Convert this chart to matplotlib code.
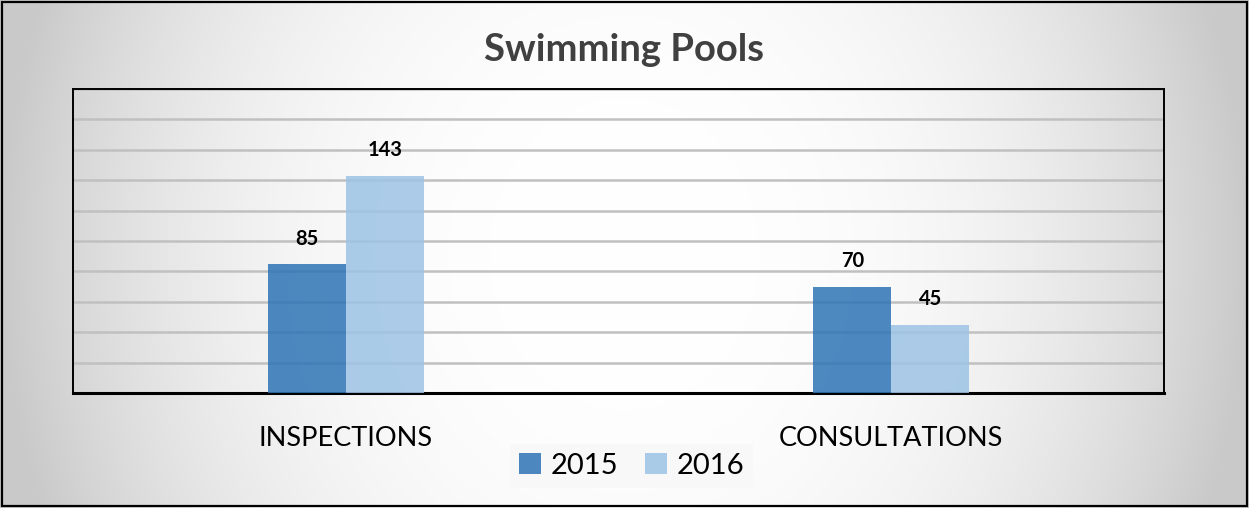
import numpy as np
import matplotlib.pyplot as plt
from matplotlib.patches import Rectangle

plt.rcParams['font.family'] = ['Lato', 'DejaVu Sans']

categories = ['INSPECTIONS', 'CONSULTATIONS']
years = ['2015', '2016']
values_2015 = [85, 70]
values_2016 = [143, 45]

W, H = 1249, 508
fig = plt.figure(figsize=(W / 100, H / 100), dpi=100)

# radial-ish grey gradient background
bg = fig.add_axes([0, 0, 1, 1], zorder=-10)
xx, yy = np.meshgrid(np.linspace(-1, 1, 400), np.linspace(-1, 1, 200))
r = np.clip(xx ** 2 + (0.35 * yy) ** 2, 0, 1)
shade = 1 - 0.21 * r ** 1.3
bg.imshow(np.dstack([shade, shade, shade]), aspect='auto', extent=[0, 1, 0, 1])
bg.add_patch(Rectangle((0.0015, 0.003), 0.997, 0.994, fill=False, lw=1.6,
                       edgecolor='black', transform=bg.transAxes))
bg.set_xlim(0, 1)
bg.set_ylim(0, 1)
bg.axis('off')

ax = fig.add_axes([73 / W, 1 - 393 / H, (1164 - 73) / W, (393 - 89) / H])
ax.patch.set_alpha(0)

x = np.arange(len(categories))
w = 0.143
b1 = ax.bar(x - w / 2, values_2015, w, color='#2e74b5', alpha=0.85, label=years[0], zorder=3)
b2 = ax.bar(x + w / 2, values_2016, w, color='#9dc3e6', alpha=0.85, label=years[1], zorder=3)

for bars, vals in [(b1, values_2015), (b2, values_2016)]:
    for bar, v in zip(bars, vals):
        ax.text(bar.get_x() + bar.get_width() / 2, v + 10, str(v), ha='center', va='bottom',
                fontsize=14.5, fontweight='bold', color='black', zorder=4)

ax.set_xlim(-0.5, 1.5)
ax.set_ylim(0, 200)
ax.set_yticks(np.arange(0, 201, 20))
ax.yaxis.grid(True, color='#c0c0c0', lw=1.8, zorder=0)
ax.tick_params(axis='y', left=False, labelleft=False)
ax.tick_params(axis='x', bottom=False, pad=20)
ax.set_xticks(x)
ax.set_xticklabels(categories, fontsize=19.5, color='black')
for s in ax.spines.values():
    s.set_color('black')
    s.set_linewidth(1.4)
ax.spines['bottom'].set_linewidth(2.2)

fig.text(0.5, 1 - 50 / H, 'Swimming Pools', ha='center', va='center',
         fontsize=27.5, fontweight='bold', color='#404040')

leg = ax.legend(loc='center', bbox_to_anchor=(0.512, -0.24), ncol=2, fontsize=21,
                frameon=True, fancybox=False, handlelength=0.75, handleheight=0.75,
                handletextpad=0.35, columnspacing=0.9, borderpad=0.3, borderaxespad=0)
leg.get_frame().set_facecolor('#f8f8f8')
leg.get_frame().set_edgecolor('none')
leg.get_frame().set_alpha(1)

fig.savefig('out.png', dpi=100)
